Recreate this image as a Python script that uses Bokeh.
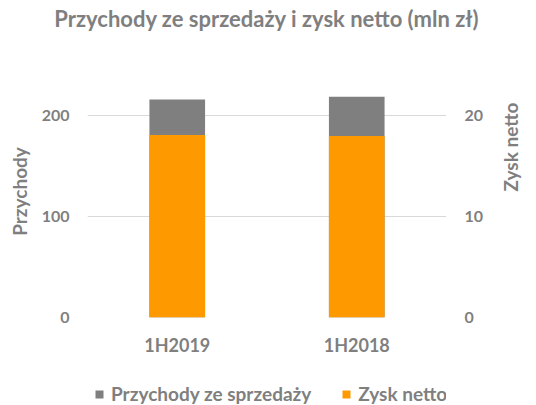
import math
from bokeh.plotting import figure
from bokeh.layouts import column
from bokeh.models import (Range1d, LinearAxis, FactorRange, FixedTicker, Legend,
                          LegendItem, ColumnDataSource)
from bokeh.embed import file_html
from bokeh.resources import INLINE

# ---- data ----
categories = ["1H2019", "1H2018"]
przychody = [216.2, 218.9]      # Przychody ze sprzedaży (left axis)
zysk_netto = [18.1, 18.0]       # Zysk netto (right axis)
left_ticks = [0, 100, 200]
right_ticks = [0, 10, 20]
title_text = "Przychody ze sprzedaży i zysk netto (mln zł)"
left_label = "Przychody"
right_label = "Zysk netto"
series_names = ["Przychody ze sprzedaży", "Zysk netto"]

GRAY = "#7f7f7f"
ORANGE = "#ff9900"
TEXT = "#7f7f7f"
GRID = "#d9d9d9"
FONT = "Lato"
W = 536
H_TITLE = 40
H_CHART = 335
H_LEGEND = 30

src = ColumnDataSource(dict(cat=categories, przychody=przychody, zysk=zysk_netto))

# ---- title strip ----
pt = figure(width=W, height=H_TITLE, output_backend="svg", toolbar_location=None,
            min_border=0, outline_line_color=None, x_axis_location=None,
            y_axis_location=None, title=title_text)
pt.xgrid.visible = False
pt.ygrid.visible = False
pt.title.align = "center"
pt.title.vertical_align = "middle"
pt.title.standoff = 7
pt.title.text_font = FONT
pt.title.text_font_size = "22px"
pt.title.text_font_style = "bold"
pt.title.text_color = TEXT

# ---- main chart ----
p = figure(x_range=FactorRange(*categories), y_range=Range1d(0, 250),
           width=W, height=H_CHART, output_backend="svg", toolbar_location=None,
           min_border_left=87, min_border_right=85, min_border_top=25,
           min_border_bottom=58, outline_line_color=None)
p.extra_y_ranges = {"zysk": Range1d(0, 25)}

p.xgrid.grid_line_color = None
p.ygrid.grid_line_color = GRID
p.ygrid.grid_line_width = 1
p.ygrid.ticker = FixedTicker(ticks=left_ticks)

def style_axis(ax, size):
    ax.axis_line_color = None
    ax.major_tick_line_color = None
    ax.minor_tick_line_color = None
    ax.major_tick_out = 0
    ax.major_tick_in = 0
    ax.major_label_text_font = FONT
    ax.major_label_text_font_size = size
    ax.major_label_text_font_style = "bold"
    ax.major_label_text_color = TEXT
    ax.axis_label_text_font = FONT
    ax.axis_label_text_font_size = "19px"
    ax.axis_label_text_font_style = "bold"
    ax.axis_label_text_color = TEXT

# left axis with its title
ly = p.yaxis[0]
style_axis(ly, "16px")
ly.ticker = FixedTicker(ticks=left_ticks)
ly.major_label_standoff = 18
ly.axis_label = left_label
ly.axis_label_standoff = 8

# right axis
ry = LinearAxis(y_range_name="zysk", ticker=FixedTicker(ticks=right_ticks))
style_axis(ry, "16px")
ry.major_label_standoff = 18
p.add_layout(ry, "right")

# right axis title, reading bottom-to-top (as in the reference)
mid = 12.5
rt = LinearAxis(y_range_name="zysk", ticker=FixedTicker(ticks=[mid]),
                major_label_overrides={mid: right_label})
style_axis(rt, "19px")
rt.major_label_orientation = math.pi / 2
rt.major_label_standoff = 24
p.add_layout(rt, "right")

# x axis
xa = p.xaxis[0]
style_axis(xa, "18px")
xa.major_label_standoff = 16

p.vbar(x="cat", top="przychody", width=0.31, source=src,
       fill_color=GRAY, line_color=None)
p.vbar(x="cat", top="zysk", width=0.31, source=src, y_range_name="zysk",
       fill_color=ORANGE, line_color=None)

# ---- legend strip (same series; the bars lie outside its view) ----
pl = figure(x_range=FactorRange(*categories), y_range=Range1d(1000, 1001),
            width=W, height=H_LEGEND, output_backend="svg", toolbar_location=None,
            min_border=0, outline_line_color=None, x_axis_location=None,
            y_axis_location=None)
pl.xgrid.visible = False
pl.ygrid.visible = False
l1 = pl.vbar(x="cat", top="przychody", width=0.31, source=src,
             fill_color=GRAY, line_color=None)
l2 = pl.vbar(x="cat", top="przychody", width=0.31, source=src,
             fill_color=ORANGE, line_color=None)

legend = Legend(items=[LegendItem(label=series_names[0], renderers=[l1]),
                       LegendItem(label=series_names[1], renderers=[l2])],
                orientation="horizontal", location=(7, 0))
legend.glyph_width = 10
legend.glyph_height = 10
legend.label_standoff = 7
legend.spacing = 30
legend.padding = 0
legend.margin = 0
legend.border_line_color = None
legend.background_fill_alpha = 0
legend.label_text_font = FONT
legend.label_text_font_size = "19px"
legend.label_text_font_style = "bold"
legend.label_text_color = TEXT
legend.label_height = 20
pl.add_layout(legend)

open("out.html", "w").write(file_html(column(pt, p, pl, spacing=0), INLINE))
